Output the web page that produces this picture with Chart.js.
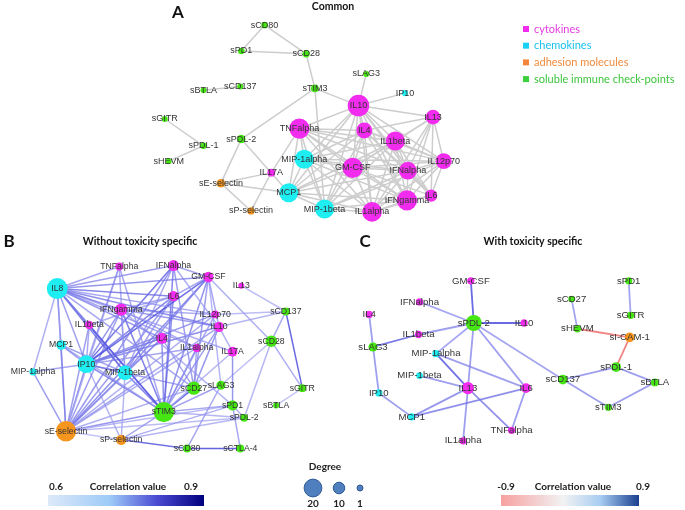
<!DOCTYPE html>
<html lang="en">
<head>
<meta charset="UTF-8">
<title>Correlation networks</title>
<style>
  body { margin: 0; background: #fff; }
  #wrap { width: 685px; height: 510px; }
</style>
</head>
<body>
<div id="wrap"><canvas id="net" width="685" height="510"></canvas></div>
<script src="https://cdn.jsdelivr.net/npm/chart.js"></script>
<script>
// c = cytokine, k = chemokine, a = adhesion molecule, s = soluble check-point
const groupColors = { c: '#f22cee', k: '#1eeef2', a: '#f7961e', s: '#46e614' };

// ---- Panel A: common ----
const namesA = ['sCD80','sPD1','sCD28','sLAG3','sBTLA','sCD137','sTIM3','IP10','IL10','sGITR',
  'IL13','TNFalpha','IL4','IL1beta','sPDL-2','sPDL-1','IL12p70','sHEVM','MIP-1alpha','GM-CSF',
  'IFNalpha','IL17A','sE-selectin','MCP1','IL6','IFNgamma','MIP-1beta','sP-selectin','IL1alpha'];
const xA = [262,238,305,367,199,237,314,407,359,159, 436,298,365,397,238,199,447,163,303,353, 410,269,217,287,434,409,324,248,373];
const yA = [15,42,45,66,83,79,81,86,99,113, 111,123,125,136,134,141,157,157,155,164, 167,169,180,190,193,198,207,209,210];
const degA = [2,2,3,1,1,1,4,1,26,1, 15,24,17,22,5,2,17,1,22,24, 20,4,5,22,11,24,22,3,23];
const groupA = ['s','s','s','s','s','s','s','k','c','s', 'c','c','c','c','s','s','c','s','k','c', 'c','c','a','k','c','c','k','a','c'];
const edgesA = [
  ['sCD80','sPD1'],['sCD80','sCD28'],['sPD1','sCD28'],['sCD28','sTIM3'],['sBTLA','sCD137'],
  ['sGITR','sPDL-1'],['sPDL-1','sHEVM'],['sTIM3','IL10'],['sTIM3','sPDL-2'],['sTIM3','MIP-1beta'],
  ['sLAG3','IL10'],['IP10','IL10'],['sPDL-2','sE-selectin'],['sPDL-2','MCP1'],['IL17A','sE-selectin'],
  ['IL17A','sP-selectin'],['sE-selectin','sP-selectin'],['IL17A','TNFalpha'],['sE-selectin','MCP1'],
  ['TNFalpha','IL10'],['TNFalpha','IL4'],['TNFalpha','IL1beta'],['TNFalpha','IL12p70'],['TNFalpha','MIP-1alpha'],
  ['TNFalpha','GM-CSF'],['TNFalpha','IFNalpha'],['TNFalpha','MCP1'],['TNFalpha','IFNgamma'],['TNFalpha','MIP-1beta'],
  ['TNFalpha','IL1alpha'],
  ['IL10','IL4'],['IL10','IL1beta'],['IL10','IL13'],['IL10','IL12p70'],['IL10','MIP-1alpha'],['IL10','GM-CSF'],
  ['IL10','IFNalpha'],['IL10','MCP1'],['IL10','IL6'],['IL10','IFNgamma'],['IL10','MIP-1beta'],['IL10','IL1alpha'],
  ['IL4','IL1beta'],['IL4','IL13'],['IL4','IL12p70'],['IL4','MIP-1alpha'],['IL4','GM-CSF'],['IL4','IFNalpha'],
  ['IL4','MCP1'],['IL4','IL6'],['IL4','IFNgamma'],['IL4','MIP-1beta'],['IL4','IL1alpha'],
  ['IL1beta','IL13'],['IL1beta','IL12p70'],['IL1beta','MIP-1alpha'],['IL1beta','GM-CSF'],['IL1beta','IFNalpha'],
  ['IL1beta','MCP1'],['IL1beta','IL6'],['IL1beta','IFNgamma'],['IL1beta','MIP-1beta'],['IL1beta','IL1alpha'],
  ['IL13','IL12p70'],['IL13','GM-CSF'],['IL13','IFNalpha'],['IL13','IL6'],['IL13','IFNgamma'],['IL13','IL1alpha'],
  ['IL12p70','MIP-1alpha'],['IL12p70','GM-CSF'],['IL12p70','IFNalpha'],['IL12p70','IL6'],['IL12p70','IFNgamma'],
  ['IL12p70','MIP-1beta'],['IL12p70','IL1alpha'],
  ['MIP-1alpha','GM-CSF'],['MIP-1alpha','IFNalpha'],['MIP-1alpha','MCP1'],['MIP-1alpha','IFNgamma'],
  ['MIP-1alpha','MIP-1beta'],['MIP-1alpha','IL1alpha'],
  ['GM-CSF','IFNalpha'],['GM-CSF','MCP1'],['GM-CSF','IL6'],['GM-CSF','IFNgamma'],['GM-CSF','MIP-1beta'],['GM-CSF','IL1alpha'],
  ['IFNalpha','MCP1'],['IFNalpha','IL6'],['IFNalpha','IFNgamma'],['IFNalpha','MIP-1beta'],['IFNalpha','IL1alpha'],
  ['MCP1','IFNgamma'],['MCP1','MIP-1beta'],['MCP1','IL1alpha'],
  ['IL6','IFNgamma'],['IL6','IL1alpha'],['IFNgamma','MIP-1beta'],['IFNgamma','IL1alpha'],['MIP-1beta','IL1alpha']
];

// ---- Panel B: without toxicity specific ----
const namesB = ['IL8','TNFalpha','IFNalpha','GM-CSF','IL13','IL6','IFNgamma','IL12p70','IL1beta','IL10',
  'IL4','IL1alpha','IL17A','sCD137','sCD28','MCP1','IP10','MIP-1alpha','MIP-1beta','sCD27',
  'sLAG3','sGITR','sPD1','sBTLA','sTIM3','sPDL-2','sE-selectin','sP-selectin','sCD80','sCTLA-4'];
const xB = [48,112,168,204,238,168,114,211,81,215, 156,192,229,284,269,52,78,23,118,189, 217,301,229,274,158,241,57,114,182,237];
const yB = [290,267,266,278,287,298,312,317,328,330, 342,352,356,314,345,349,369,377,378,394, 391,394,412,412,419,425,439,448,457,457];
const degB = [25,4,9,8,1,8,11,4,5,8, 9,5,7,4,10,7,20,3,15,13, 6,4,8,1,24,4,24,8,4,4];
const groupB = ['k','c','c','c','c','c','c','c','c','c', 'c','c','c','s','s','k','k','k','k','s', 's','s','s','s','s','s','a','a','s','s'];
const edgesB = [
  ['IL8','TNFalpha',.70],['IL8','IFNalpha',.72],['IL8','GM-CSF',.74],['IL8','IL6',.78],['IL8','IFNgamma',.75],
  ['IL8','IL12p70',.70],['IL8','IL10',.76],['IL8','IL1beta',.72],['IL8','IL4',.74],['IL8','IL1alpha',.70],
  ['IL8','MCP1',.68],['IL8','IP10',.72],['IL8','MIP-1alpha',.68],['IL8','MIP-1beta',.80],['IL8','sTIM3',.82],
  ['IL8','sE-selectin',.74],['IL8','sCD27',.70],['IL8','IL17A',.68],
  ['TNFalpha','IP10',.70],['TNFalpha','sE-selectin',.66],['TNFalpha','MIP-1beta',.68],['TNFalpha','sTIM3',.70],
  ['IFNalpha','IP10',.82],['IFNalpha','GM-CSF',.70],['IFNalpha','sE-selectin',.74],['IFNalpha','sTIM3',.78],
  ['IFNalpha','sCD27',.72],['IFNalpha','IL10',.68],['IFNalpha','MIP-1beta',.70],
  ['GM-CSF','IL6',.70],['GM-CSF','IP10',.85],['GM-CSF','sE-selectin',.76],['GM-CSF','sTIM3',.75],
  ['GM-CSF','sCD27',.72],['GM-CSF','sCD28',.68],['GM-CSF','IL10',.70],['GM-CSF','MIP-1beta',.74],['GM-CSF','sLAG3',.66],
  ['IL13','sCD137',.64],
  ['IL6','IP10',.78],['IL6','sE-selectin',.72],['IL6','sTIM3',.76],['IL6','IFNgamma',.70],['IL6','IL1beta',.68],['IL6','MIP-1beta',.72],
  ['IFNgamma','IP10',.74],['IFNgamma','sE-selectin',.72],['IFNgamma','sTIM3',.80],['IFNgamma','IL10',.72],
  ['IFNgamma','IL12p70',.68],['IFNgamma','MIP-1beta',.70],['IFNgamma','IL1alpha',.70],['IFNgamma','sPD1',.66],
  ['IL12p70','sCD137',.64],['IL12p70','sTIM3',.70],['IL12p70','IP10',.74],['IL12p70','sE-selectin',.68],
  ['IL1beta','IP10',.70],['IL1beta','sE-selectin',.72],['IL1beta','sTIM3',.80],['IL1beta','MIP-1beta',.68],
  ['IL10','sCD137',.66],['IL10','sCD27',.74],['IL10','sTIM3',.72],['IL10','IP10',.76],['IL10','IL17A',.68],['IL10','sE-selectin',.70],
  ['IL4','sE-selectin',.72],['IL4','sTIM3',.75],['IL4','IP10',.80],['IL4','MIP-1beta',.72],['IL4','sCD27',.70],
  ['IL1alpha','sTIM3',.72],['IL1alpha','sCD27',.70],['IL1alpha','IP10',.70],['IL1alpha','sE-selectin',.68],
  ['IL17A','sPD1',.74],['IL17A','sTIM3',.66],
  ['sCD137','sGITR',.86],['sCD137','sCD28',.70],['sCD28','sGITR',.68],['sCD28','sPDL-2',.66],['sCD28','sLAG3',.64],
  ['sGITR','sBTLA',.62],
  ['MCP1','IP10',.72],['MCP1','sE-selectin',.70],['MCP1','MIP-1beta',.70],['MCP1','sTIM3',.68],
  ['IP10','MIP-1alpha',.70],['IP10','MIP-1beta',.76],['IP10','sTIM3',.78],['IP10','sE-selectin',.76],
  ['IP10','sP-selectin',.66],['IP10','sCD27',.72],
  ['MIP-1alpha','sE-selectin',.72],
  ['MIP-1beta','sTIM3',.80],['MIP-1beta','sE-selectin',.72],['MIP-1beta','sP-selectin',.66],
  ['sCD27','sTIM3',.86],['sCD27','sE-selectin',.68],
  ['sLAG3','sTIM3',.72],['sLAG3','sCD80',.70],
  ['sPD1','sTIM3',.70],['sPD1','sP-selectin',.68],['sPD1','sE-selectin',.66],['sPD1','sCTLA-4',.70],['sPD1','sPDL-2',.66],
  ['sTIM3','sE-selectin',.74],['sTIM3','sP-selectin',.70],['sTIM3','sPDL-2',.66],
  ['sE-selectin','sP-selectin',.62],['sE-selectin','sPDL-2',.64],
  ['sP-selectin','sCD80',.84],['sP-selectin','sPDL-2',.66],['sCD80','sCTLA-4',.88]
];

// ---- Panel C: with toxicity specific ----
const namesC = ['GM-CSF','IFNalpha','IL4','sPDL-2','IL10','IL1beta','sLAG3','MIP-1alpha','MIP-1beta','IL13',
  'IL6','IP10','MCP1','TNFalpha','IL1alpha','sPD1','sCD27','sGITR','sHEVM','sI-CAM-1',
  'sPDL-1','sCD137','sBTLA','sTIM3'];
const xC = [475,422,370,478,530,421,374,439,422,472, 532,380,414,517,467,638,579,640,585,639, 625,570,665,617];
const yC = [282,304,317,326,326,338,351,358,381,394, 394,399,424,438,449,282,301,318,332,341, 372,385,388,414];
const degC = [3,3,3,17,3,3,6,3,2,11, 7,3,3,3,3,3,2,3,3,7, 7,7,4,3];
const groupC = ['c','c','c','s','c','c','s','k','k','c', 'c','k','k','c','c','s','s','s','s','a', 's','s','s','s'];
const edgesC = [
  ['GM-CSF','sPDL-2',.86],['IFNalpha','sPDL-2',.70],['sPDL-2','IL10',.86],['IL1beta','sPDL-2',.72],
  ['sPDL-2','MIP-1alpha',.70],['sPDL-2','IL13',.72],['sPDL-2','IL6',.72],['sPDL-2','sCD137',.70],
  ['IL4','sLAG3',.72],['sLAG3','IL1beta',.82],['sLAG3','IP10',.72],['IP10','MCP1',.72],
  ['MCP1','IL13',.74],['MCP1','IL6',.76],['MIP-1alpha','IL13',.84],['MIP-1alpha','IL6',.72],
  ['MIP-1beta','IL13',.72],['IL13','TNFalpha',.76],['IL13','IL1alpha',.72],['IL6','TNFalpha',.72],
  ['sCD27','sHEVM',.70],['sPD1','sGITR',.70],['sHEVM','sI-CAM-1',-.70],['sI-CAM-1','sPDL-1',-.70],
  ['sPDL-1','sCD137',.72],['sPDL-1','sBTLA',.72],['sBTLA','sTIM3',.72],['sCD137','sTIM3',.72]
];

function nodeRadius(d) { return 2.7 + 0.31 * d; }

function mix(a, b, t) {
  return a.map((v, i) => Math.round(v + (b[i] - v) * t));
}
function blueFor(corr) {
  const t = Math.max(0, Math.min(1, (Math.abs(corr) - 0.6) / 0.3));
  const c = mix([190, 190, 248], [45, 45, 215], t);
  return 'rgba(' + c.join(',') + ',0.78)';
}

const panels = [
  { names: namesA, x: xA, y: yA, deg: degA, grp: groupA, edges: edgesA, font: 9 },
  { names: namesB, x: xB, y: yB, deg: degB, grp: groupB, edges: edgesB, font: 8.7 },
  { names: namesC, x: xC, y: yC, deg: degC, grp: groupC, edges: edgesC, font: 9.6 }
];

const datasets = [];
panels.forEach((p, pi) => {
  p.edges.forEach(e => {
    const i = p.names.indexOf(e[0]);
    const j = p.names.indexOf(e[1]);
    let color = '#cdcdcd';
    if (pi > 0) color = e[2] < 0 ? 'rgba(240,120,120,0.9)' : blueFor(e[2]);
    datasets.push({
      type: 'line',
      data: [{ x: p.x[i], y: p.y[i] }, { x: p.x[j], y: p.y[j] }],
      borderColor: color,
      borderWidth: pi === 2 ? 1.8 : 1.5,
      pointRadius: 0,
      fill: false,
      clip: false,
      order: 2
    });
  });
  datasets.push({
    type: 'bubble',
    data: p.names.map((n, i) => ({ x: p.x[i], y: p.y[i], r: nodeRadius(p.deg[i]) })),
    backgroundColor: p.grp.map(g => groupColors[g]),
    borderWidth: 0,
    clip: false,
    order: 0
  });
});

function text(ctx, s, x, y, font, color, align) {
  ctx.font = font;
  ctx.fillStyle = color;
  ctx.textAlign = align || 'center';
  ctx.textBaseline = 'middle';
  ctx.fillText(s, x, y);
}

const decorations = {
  id: 'decorations',
  afterDatasetsDraw(chart) {
    const ctx = chart.ctx;
    const xs = chart.scales.x, ys = chart.scales.y;
    ctx.save();
    panels.forEach(p => {
      p.names.forEach((n, i) => {
        text(ctx, n, xs.getPixelForValue(p.x[i]), ys.getPixelForValue(p.y[i]),
          p.font + 'px "Liberation Sans", Arial, sans-serif', '#333');
      });
    });

    const title = 'bold 10.5px Lato, "Open Sans", sans-serif';
    const letter = 'bold 17px Lato, "Open Sans", sans-serif';
    text(ctx, 'A', 178, 13, letter, '#111');
    text(ctx, 'Common', 333, 7, title, '#111');
    text(ctx, 'B', 9, 242, letter, '#111');
    text(ctx, 'Without toxicity specific', 140, 242, title, '#111');
    text(ctx, 'C', 365, 242, letter, '#111');
    text(ctx, 'With toxicity specific', 533, 242, title, '#111');

    // group legend
    const legend = [
      ['cytokines', '#f22cee', '#e23ce0'],
      ['chemokines', '#1ad0f4', '#19c0ee'],
      ['adhesion molecules', '#f5873a', '#f08a3c'],
      ['soluble immune check-points', '#3cd03c', '#3cc43c']
    ];
    legend.forEach((l, k) => {
      const y = 29 + k * 16.7;
      ctx.fillStyle = l[1];
      ctx.fillRect(523, y - 3, 6, 6);
      text(ctx, l[0], 534, y, '11px Lato, "Open Sans", sans-serif', l[2], 'left');
    });

    // correlation bars
    const small = 'bold 10px Lato, "Open Sans", sans-serif';
    text(ctx, '0.6', 56, 487, small, '#222');
    text(ctx, 'Correlation value', 128, 487, small, '#222');
    text(ctx, '0.9', 191, 487, small, '#222');
    let g = ctx.createLinearGradient(48, 0, 204, 0);
    g.addColorStop(0, '#dde9f8');
    g.addColorStop(0.4, '#9ccaf8');
    g.addColorStop(0.7, '#4a4ad2');
    g.addColorStop(1, '#00007e');
    ctx.fillStyle = g;
    ctx.fillRect(48, 495, 156, 11);

    text(ctx, '-0.9', 506, 487, small, '#222');
    text(ctx, 'Correlation value', 573, 487, small, '#222');
    text(ctx, '0.9', 643, 487, small, '#222');
    g = ctx.createLinearGradient(501, 0, 639, 0);
    g.addColorStop(0, '#f7a0a0');
    g.addColorStop(0.45, '#f2f2f2');
    g.addColorStop(0.72, '#a8cdf2');
    g.addColorStop(1, '#1a3f8f');
    ctx.fillStyle = g;
    ctx.fillRect(501, 495, 138, 11);

    // degree legend
    text(ctx, 'Degree', 325, 467, small, '#222');
    [[313, 20], [339, 10], [360, 1]].forEach(d => {
      ctx.beginPath();
      ctx.arc(d[0], 488, nodeRadius(d[1]), 0, Math.PI * 2);
      ctx.fillStyle = '#4f7fbf';
      ctx.fill();
      ctx.lineWidth = 1;
      ctx.strokeStyle = '#2f5a96';
      ctx.stroke();
      text(ctx, String(d[1]), d[0], 504, small, '#222');
    });
    ctx.restore();
  }
};

new Chart(document.getElementById('net'), {
  type: 'scatter',
  data: { datasets: datasets },
  options: {
    responsive: false,
    animation: false,
    events: [],
    layout: { padding: 0 },
    plugins: { legend: { display: false }, tooltip: { enabled: false } },
    scales: {
      x: { type: 'linear', min: 0, max: 685, display: false },
      y: { type: 'linear', min: 0, max: 510, reverse: true, display: false }
    }
  },
  plugins: [decorations]
});
</script>
</body>
</html>
